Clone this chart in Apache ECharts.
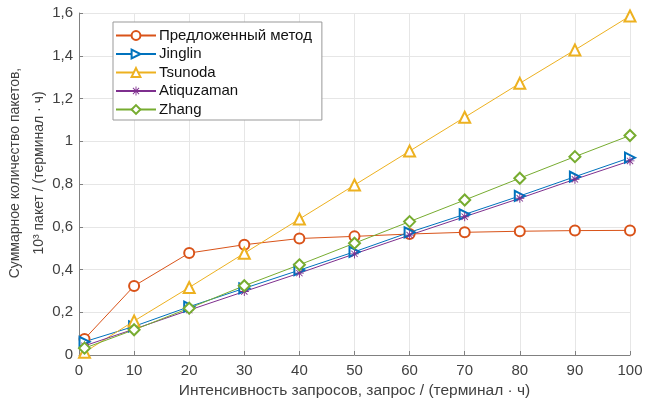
<!DOCTYPE html>
<html>
<head>
<meta charset="utf-8">
<script src="https://cdn.jsdelivr.net/npm/echarts@6/dist/echarts.min.js"></script>
<style>
  html, body { margin: 0; padding: 0; background: #fff; }
  #chart { width: 645px; height: 403px; }
</style>
</head>
<body>
<div id="chart"></div>
<script>
// x values (запрос / (терминал · ч))
const xValues = [1, 10, 20, 30, 40, 50, 60, 70, 80, 90, 100]

// 10^3 пакет / (терминал · ч)
const proposed = [0.075, 0.323, 0.477, 0.516, 0.545, 0.555, 0.566, 0.574, 0.579, 0.582, 0.583]
const jinglin = [0.062, 0.134, 0.226, 0.312, 0.397, 0.483, 0.574, 0.658, 0.744, 0.834, 0.923]
const tsunoda = [0.013, 0.159, 0.316, 0.476, 0.636, 0.795, 0.954, 1.112, 1.271, 1.427, 1.586]
const atiquzaman = [0.043, 0.121, 0.21, 0.297, 0.383, 0.473, 0.561, 0.647, 0.733, 0.822, 0.908]
const zhang = [0.032, 0.118, 0.219, 0.324, 0.422, 0.523, 0.624, 0.725, 0.827, 0.928, 1.027]

const seriesNames = ['Предложенный метод', 'Jinglin', 'Tsunoda', 'Atiquzaman', 'Zhang']
const seriesColors = ['#D95319', '#0072BD', '#EDB120', '#7E2F8E', '#77AC30']

// asterisk marker like matlab '*'
const asterisk = 'path://M9,0h2v20h-2z M0,9h20v2h-20z M2.3,3.7l1.4,-1.4l14,14l-1.4,1.4z M16.3,2.3l1.4,1.4l-14,14l-1.4,-1.4z'

function pairs(ys) {
  return xValues.map((x, i) => [x, ys[i]])
}

function makeSeries(idx, data, symbol, size, rotate) {
  return {
    name: seriesNames[idx],
    type: 'line',
    data: pairs(data),
    symbol: symbol,
    symbolSize: size,
    symbolRotate: rotate || 0,
    showAllSymbol: true,
    lineStyle: { color: seriesColors[idx], width: 1 },
    itemStyle: { color: seriesColors[idx], borderWidth: 1 },
    emphasis: { disabled: true },
    animation: false
  }
}

const fmtComma = v => (Math.abs(v - Math.round(v)) < 1e-9 ? String(Math.round(v)) : v.toFixed(1).replace('.', ','))

const chart = echarts.init(document.getElementById('chart'), null, { renderer: 'canvas' })
chart.setOption({
  backgroundColor: '#fff',
  textStyle: { fontFamily: 'Liberation Sans' },
  grid: { left: 79, right: 15, top: 13, bottom: 48, containLabel: false, outerBoundsMode: 'none' },
  legend: {
    orient: 'vertical',
    left: 113,
    top: 22,
    padding: [6, 10, 3, 2],
    itemWidth: 40,
    itemHeight: 11,
    itemGap: 3.5,
    backgroundColor: '#fff',
    borderColor: '#999',
    borderWidth: 1,
    borderRadius: 0,
    textStyle: { fontSize: 15, color: '#111', fontFamily: 'Liberation Sans', padding: [0, 0, 0, -2] },
    data: seriesNames
  },
  xAxis: {
    type: 'value',
    min: 0,
    max: 100,
    interval: 10,
    name: 'Интенсивность запросов, запрос / (терминал · ч)',
    nameLocation: 'middle',
    nameGap: 28,
    nameMoveOverlap: false,
    nameTextStyle: { fontSize: 15.5, color: '#404040', fontFamily: 'Liberation Sans', verticalAlign: 'top' },
    axisLine: { show: true, lineStyle: { color: '#808080', width: 1 } },
    axisTick: { show: true, inside: true, length: 4, lineStyle: { color: '#808080' } },
    axisLabel: { fontSize: 15, color: '#404040', margin: 8 },
    splitLine: { show: true, lineStyle: { color: '#e6e6e6', width: 1 } }
  },
  yAxis: {
    type: 'value',
    min: 0,
    max: 1.6,
    interval: 0.2,
    name: 'Суммарное количество пакетов,\n10³ пакет / (терминал · ч)',
    nameLocation: 'middle',
    nameGap: 28,
    nameMoveOverlap: false,
    nameTextStyle: { fontSize: 14, color: '#404040', lineHeight: 24, fontFamily: 'Liberation Sans', padding: [0, 0, 0, 22] },
    axisLine: { show: true, lineStyle: { color: '#808080', width: 1 } },
    axisTick: { show: true, inside: true, length: 4, lineStyle: { color: '#808080' } },
    axisLabel: { fontSize: 15, color: '#404040', margin: 6, formatter: fmtComma },
    splitLine: { show: true, lineStyle: { color: '#e6e6e6', width: 1 } }
  },
  series: [
    makeSeries(0, proposed, 'emptyCircle', 10),
    makeSeries(1, jinglin, 'emptyTriangle', 10, -90),
    makeSeries(2, tsunoda, 'emptyTriangle', 11),
    makeSeries(3, atiquzaman, asterisk, 9),
    makeSeries(4, zhang, 'emptyDiamond', 11)
  ]
})
</script>
</body>
</html>
